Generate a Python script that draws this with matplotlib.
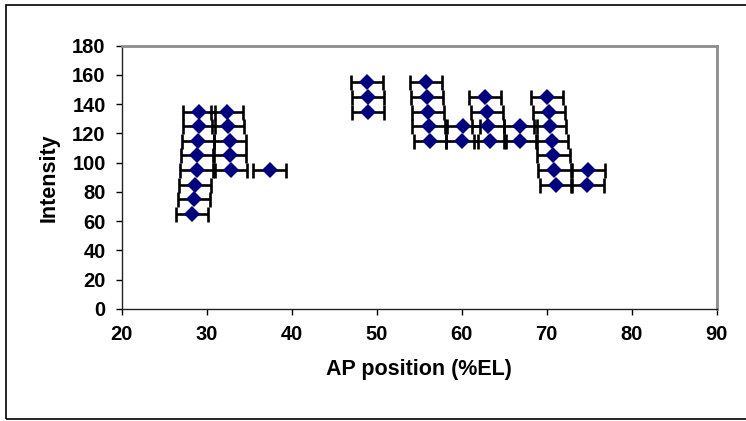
import matplotlib.pyplot as plt
from matplotlib.patches import Rectangle

# AP position (%EL) and intensity of each point
ap_position = [29.1, 29.1, 29.0, 28.9, 28.8, 28.6, 28.5, 28.3,
               32.35, 32.5, 32.7, 32.7, 32.9,
               37.4,
               48.9, 49.0, 49.0,
               55.8, 55.9, 56.0, 56.1, 56.3,
               60.2, 60.0,
               62.7, 63.0, 63.1, 63.3,
               66.9, 66.9,
               70.0, 70.3, 70.4, 70.6, 70.8, 70.9, 71.1,
               74.9, 74.8]
intensity = [135, 125, 115, 105, 95, 85, 75, 65,
             135, 125, 115, 105, 95,
             95,
             155, 145, 135,
             155, 145, 135, 125, 115,
             125, 115,
             145, 135, 125, 115,
             125, 115,
             145, 135, 125, 115, 105, 95, 85,
             95, 85]
x_err = 1.9

x_ticks = [20, 30, 40, 50, 60, 70, 80, 90]
y_ticks = [0, 20, 40, 60, 80, 100, 120, 140, 160, 180]

plt.rcParams['font.family'] = ['Liberation Sans', 'DejaVu Sans']
plt.rcParams['font.weight'] = 'bold'

fig = plt.figure(figsize=(7.46, 4.21), dpi=100)
ax = fig.add_axes([121.7 / 746, 1 - 309 / 421, 595 / 746, 263.3 / 421])

# error bars first, diamonds on top
ax.errorbar(ap_position, intensity, xerr=x_err, fmt='none', ecolor='black',
            elinewidth=1.9, capsize=5.4, capthick=1.9, zorder=2)
ax.plot(ap_position, intensity, 'D', color='#000080', markersize=7.8,
        markeredgewidth=0, zorder=3)

ax.set_xlim(20, 90)
ax.set_ylim(0, 180)
ax.set_xticks(x_ticks)
ax.set_yticks(y_ticks)
ax.tick_params(labelsize=14.5, length=4.5, width=1, direction='out', pad=7)
for lab in ax.get_xticklabels() + ax.get_yticklabels():
    lab.set_fontweight('bold')

ax.set_xlabel('AP position (%EL)', fontsize=15.5, fontweight='bold', labelpad=11)
ax.set_ylabel('Intensity', fontsize=15.5, fontweight='bold', labelpad=9)

for side in ['left', 'bottom']:
    ax.spines[side].set_color('#222222')
    ax.spines[side].set_linewidth(1)
for side in ['top', 'right']:
    ax.spines[side].set_color('#8c8c8c')
    ax.spines[side].set_linewidth(2)

# outer chart frame (right side is cut off in the reference)
fig.add_artist(Rectangle((6 / 746, 1 - 419 / 421), 1.2, 414 / 421,
                         transform=fig.transFigure, fill=False,
                         edgecolor='black', linewidth=1.2))

fig.savefig('out.png', dpi=100)
